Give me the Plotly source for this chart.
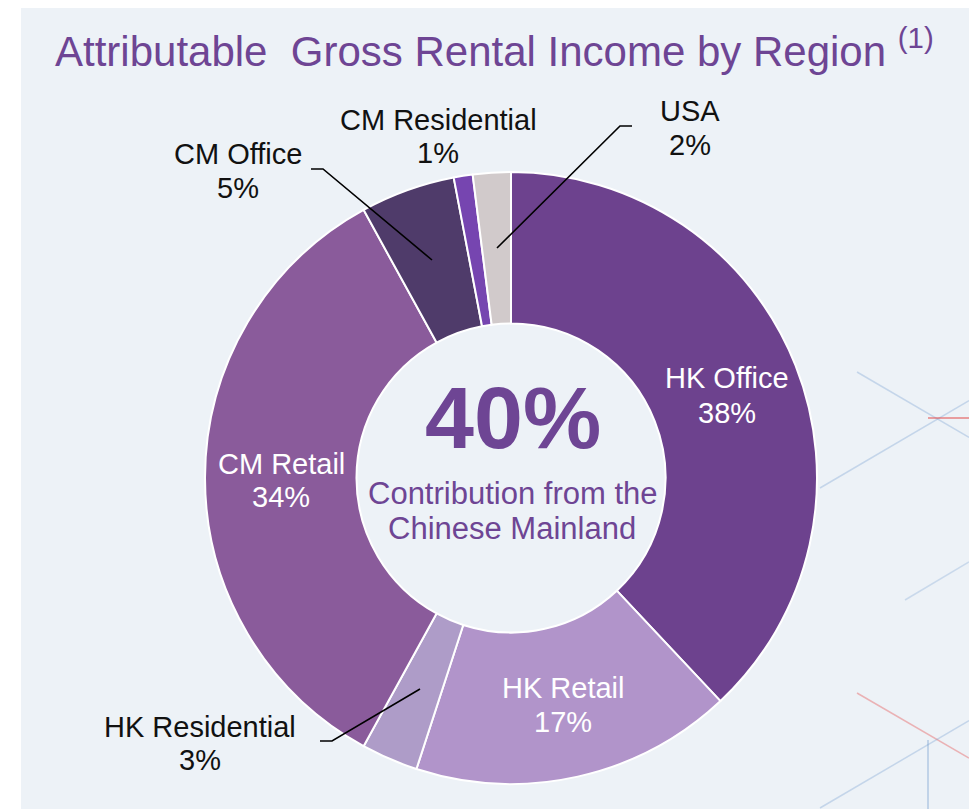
import plotly.graph_objects as go

# ---- data ----
segments = ["HK Office", "HK Retail", "HK Residential", "CM Retail", "CM Office", "CM Residential", "USA"]
shares = [38, 17, 3, 34, 5, 1, 2]
colors = ["#6D428E", "#B194CA", "#AE9CC8", "#8A5B9B", "#4F3B6A", "#7645B0", "#D1CACB"]
center_value = "40%"
center_caption = ["Contribution from the", "Chinese Mainland"]
title_text = "Attributable  Gross Rental Income by Region"
title_note = "(1)"

# page geometry (browser body has an 8px margin)
OFF = 8
W, H = 977 - OFF, 809 - OFF
cx, cy, R = 511, 478, 306
BG = "#EDF2F7"
PURPLE = "#6E4594"
FONT = "Liberation Sans, Arial, sans-serif"

fig = go.Figure()

fig.add_trace(go.Pie(
    labels=segments, values=shares, sort=False, direction="clockwise", rotation=0,
    hole=0.505, marker=dict(colors=colors, line=dict(color="white", width=2)),
    textinfo="none", hoverinfo="label+percent", showlegend=False,
    domain=dict(x=[(cx - R - OFF) / W, (cx + R - OFF) / W],
                y=[(809 - cy - R) / H, (809 - cy + R) / H]),
))

# invisible axes in window-pixel coordinates for annotations / shapes
fig.update_layout(
    xaxis=dict(range=[OFF, 977], visible=False, domain=[0, 1], fixedrange=True),
    yaxis=dict(range=[809, OFF], visible=False, domain=[0, 1], fixedrange=True),
)

# label placement: (x, name-line y, percent-line y, colour)
label_pos = {
    "HK Office": (727, 378, 413, "white"),
    "HK Retail": (563, 688, 722, "white"),
    "HK Residential": (200, 727, 760, "#111111"),
    "CM Retail": (281, 464, 497, "white"),
    "CM Office": (238, 154, 188, "#111111"),
    "CM Residential": (438, 120, 153, "#111111"),
    "USA": (690, 111, 145, "#111111"),
}
LS = 29
annotations = []
for name, val in zip(segments, shares):
    x, y1, y2, c = label_pos[name]
    for txt, yy in ((name, y1), (f"{val}%", y2)):
        annotations.append(dict(x=x, y=yy, xref="x", yref="y", text=txt,
                                showarrow=False, font=dict(family=FONT, size=LS, color=c),
                                xanchor="center", yanchor="middle"))

# title
annotations.append(dict(x=53, y=48, xref="x", yref="y",
                        text=f"{title_text} <sup>{title_note}</sup>",
                        showarrow=False, font=dict(family=FONT, size=42, color=PURPLE),
                        xanchor="left", yanchor="middle"))
# center text
annotations.append(dict(x=513, y=417, xref="x", yref="y", text=f"<b>{center_value}</b>",
                        showarrow=False, font=dict(family=FONT, size=88, color=PURPLE),
                        xanchor="center", yanchor="middle"))
for txt, yy in zip(center_caption, (493, 528)):
    annotations.append(dict(x=512, y=yy, xref="x", yref="y", text=txt,
                            showarrow=False, font=dict(family=FONT, size=31, color=PURPLE),
                            xanchor="center", yanchor="middle"))

shapes = [
    dict(type="rect", xref="x", yref="y", x0=21, x1=969, y0=4, y1=809,
         fillcolor=BG, line=dict(width=0), layer="below"),
]
# decorative faint lines on the right
deco = [
    ((857, 372), (977, 442), "rgba(120,160,210,0.35)"),
    ((820, 488), (977, 396), "rgba(120,160,210,0.35)"),
    ((928, 418), (969, 418), "rgba(230,80,80,0.7)"),
    ((905, 600), (977, 557), "rgba(120,160,210,0.3)"),
    ((857, 693), (969, 758), "rgba(230,100,100,0.45)"),
    ((820, 808), (977, 716), "rgba(120,160,210,0.35)"),
    ((928, 740), (928, 809), "rgba(120,160,210,0.5)"),
]
for (x0, y0), (x1, y1), col in deco:
    x1c = min(x1, 969)
    if x1 != x1c:
        y1 = y0 + (y1 - y0) * (x1c - x0) / (x1 - x0)
    shapes.append(dict(type="line", xref="x", yref="y", x0=x0, y0=y0, x1=x1c, y1=y1,
                       line=dict(color=col, width=1.5), layer="below"))

# leader lines
leaders = [
    [(311, 169), (323, 169), (432, 260)],   # CM Office
    [(632, 126), (620, 126), (497, 248)],   # USA
    [(320, 741), (332, 741), (420, 689)],   # HK Residential
]
for pts in leaders:
    path = "M " + " L ".join(f"{x},{y}" for x, y in pts)
    shapes.append(dict(type="path", xref="x", yref="y", path=path,
                       line=dict(color="black", width=1.6), layer="above"))

fig.update_layout(
    width=W, height=H, margin=dict(l=0, r=0, t=0, b=0),
    paper_bgcolor="white", plot_bgcolor="rgba(0,0,0,0)",
    annotations=annotations, shapes=shapes, showlegend=False,
)

fig.write_html("out.html")
